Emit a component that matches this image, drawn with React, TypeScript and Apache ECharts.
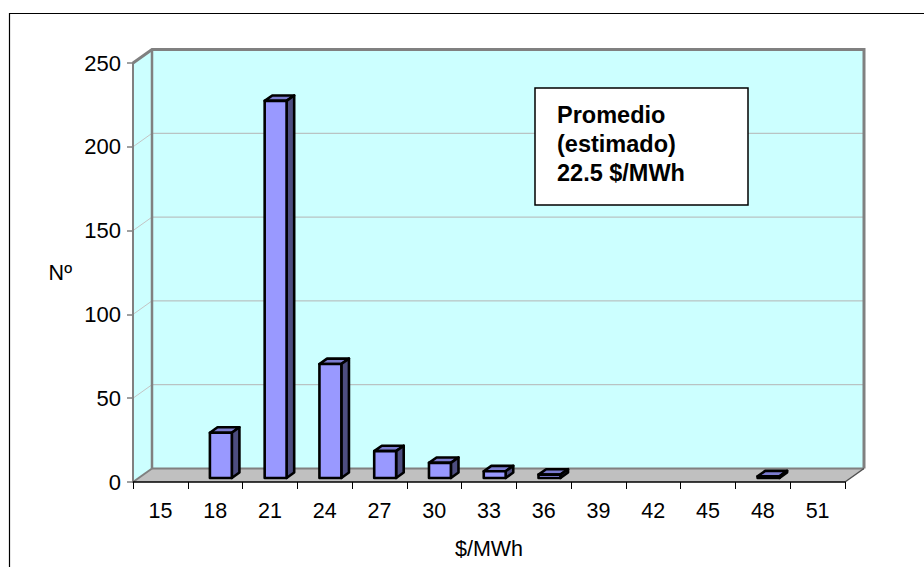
import React, { useEffect, useRef } from "react";
import * as echarts from "echarts";

const categories = ["15", "18", "21", "24", "27", "30", "33", "36", "39", "42", "45", "48", "51"];
const counts = [0, 27, 225, 68, 16, 9, 4, 2, 0, 0, 0, 1, 0];
const yTicks = [0, 50, 100, 150, 200, 250];
const noteLines = ["Promedio", "(estimado)", "22.5 $/MWh"];
const yTitle = "Nº";
const xTitle = "$/MWh";

// 3D depth vector of the plot box and bar placement within that depth
const DX = 19;
const DY = -13.5;
const BAR_F0 = 0.3;
const BAR_F1 = 0.7;
const BAR_W = 0.4;
const FONT = '"Liberation Sans", Arial, sans-serif';

export default function App() {
  const ref = useRef<HTMLDivElement>(null);

  useEffect(() => {
    const chart = echarts.init(ref.current as HTMLDivElement, null, { renderer: "svg" });
    const yMax = yTicks[yTicks.length - 1];
    const yStep = yTicks[1] - yTicks[0];

    const wallsRender = (_params: any, api: any) => {
      const catW = api.size([1, 0])[0];
      const xL = api.coord([0, 0])[0] - catW / 2;
      const xR = api.coord([categories.length - 1, 0])[0] + catW / 2;
      const yB = api.coord([0, 0])[1];
      const yT = api.coord([0, yMax])[1];
      const bxL = xL + DX;
      const bxR = xR + DX;
      const byB = yB + DY;
      const byT = yT + DY;
      const children: any[] = [];
      children.push({
        type: "rect",
        shape: { x: bxL, y: byT, width: bxR - bxL, height: byB - byT },
        style: { fill: "#CCFFFF", stroke: null },
      });
      children.push({
        type: "polygon",
        shape: { points: [[xL, yT], [bxL, byT], [bxL, byB], [xL, yB]] },
        style: { fill: "#CCFFFF", stroke: null },
      });
      children.push({
        type: "polygon",
        shape: { points: [[xL, yB], [bxL, byB], [bxR, byB], [xR, yB]] },
        style: { fill: "#C0C0C0", stroke: null },
      });
      yTicks.forEach((v) => {
        if (v === 0 || v === yMax) return;
        const y = api.coord([0, v])[1];
        children.push({
          type: "line",
          shape: { x1: bxL, y1: y + DY, x2: bxR, y2: y + DY },
          style: { stroke: "#B4B4B4", lineWidth: 1 },
        });
        children.push({
          type: "line",
          shape: { x1: xL, y1: y, x2: bxL, y2: y + DY },
          style: { stroke: "#C4C4C4", lineWidth: 1 },
        });
      });
      children.push({
        type: "polyline",
        shape: { points: [[xL, yT], [bxL, byT], [bxR, byT], [bxR, byB]] },
        style: { fill: null, stroke: "#808080", lineWidth: 3 },
      });
      children.push({
        type: "line",
        shape: { x1: bxL, y1: byT, x2: bxL, y2: byB },
        style: { stroke: "#808080", lineWidth: 2.5 },
      });
      children.push({
        type: "line",
        shape: { x1: bxL, y1: byB, x2: bxR, y2: byB },
        style: { stroke: "#808080", lineWidth: 2 },
      });
      children.push({
        type: "line",
        shape: { x1: xL, y1: yB, x2: bxL, y2: byB },
        style: { stroke: "#808080", lineWidth: 2 },
      });
      children.push({
        type: "line",
        shape: { x1: xR, y1: yB, x2: bxR, y2: byB },
        style: { stroke: "#505050", lineWidth: 1.5 },
      });
      return { type: "group", children };
    };

    const barsRender = (_params: any, api: any) => {
      const idx = api.value(0);
      const v = api.value(1);
      if (!v) return { type: "group", children: [] };
      const catW = api.size([1, 0])[0];
      const cx = api.coord([idx, 0])[0];
      const y0 = api.coord([idx, 0])[1];
      const y1 = api.coord([idx, v])[1];
      const w = catW * BAR_W;
      const fx0 = cx - w / 2 + DX * BAR_F0;
      const fx1 = fx0 + w;
      const fy0 = y0 + DY * BAR_F0;
      const fy1 = y1 + DY * BAR_F0;
      const ddx = DX * (BAR_F1 - BAR_F0);
      const ddy = DY * (BAR_F1 - BAR_F0);
      const edge = { stroke: "#000", lineWidth: 2.6, lineJoin: "round" };
      return {
        type: "group",
        children: [
          {
            type: "polygon",
            shape: { points: [[fx0, fy1], [fx0 + ddx, fy1 + ddy], [fx1 + ddx, fy1 + ddy], [fx1, fy1]] },
            style: { fill: "#7B7BCF", ...edge },
          },
          {
            type: "polygon",
            shape: { points: [[fx1, fy1], [fx1 + ddx, fy1 + ddy], [fx1 + ddx, fy0 + ddy], [fx1, fy0]] },
            style: { fill: "#4D4D80", ...edge },
          },
          {
            type: "rect",
            shape: { x: fx0, y: fy1, width: w, height: fy0 - fy1 },
            style: { fill: "#9999FF", ...edge },
          },
        ],
      };
    };

    chart.setOption({
      animation: false,
      backgroundColor: "#ffffff",
      grid: { left: 133, right: 79, top: 63, bottom: 85, containLabel: false },
      xAxis: {
        type: "category",
        data: categories,
        boundaryGap: true,
        z: 10,
        axisLine: { show: true, lineStyle: { color: "#000", width: 1.5 } },
        axisTick: { show: true, length: 7, interval: 0, lineStyle: { color: "#000", width: 1 } },
        axisLabel: { color: "#000", fontSize: 21.5, fontFamily: FONT, margin: 18, interval: 0 },
        splitLine: { show: false },
        name: xTitle,
        nameLocation: "middle",
        nameGap: 56,
        nameTextStyle: { color: "#000", fontSize: 21.5, fontFamily: FONT },
      },
      yAxis: {
        type: "value",
        min: 0,
        max: yMax,
        interval: yStep,
        z: 10,
        axisLine: { show: true, lineStyle: { color: "#808080", width: 2 } },
        axisTick: { show: true, length: 6, lineStyle: { color: "#808080", width: 1.5 } },
        axisLabel: { color: "#000", fontSize: 22, fontFamily: FONT, margin: 12 },
        splitLine: { show: false },
        name: yTitle,
        nameLocation: "middle",
        nameGap: 61,
        nameRotate: 0,
        nameTextStyle: { color: "#000", fontSize: 21.5, fontFamily: FONT },
      },
      series: [
        {
          type: "custom",
          name: "walls",
          z: 1,
          clip: false,
          silent: true,
          renderItem: wallsRender,
          data: [[0, 0]],
          encode: { x: 0, y: 1 },
        },
        {
          type: "custom",
          name: "Nº",
          z: 3,
          clip: false,
          renderItem: barsRender,
          data: counts.map((v, i) => [i, v]),
          encode: { x: 0, y: 1 },
        },
      ],
      graphic: [
        {
          type: "rect",
          z: 0,
          silent: true,
          shape: { x: 9.5, y: 13.5, width: 1000, height: 1000 },
          style: { fill: "none", stroke: "#000", lineWidth: 1.2 },
        },
        {
          type: "rect",
          z: 50,
          shape: { x: 535, y: 88, width: 213, height: 117 },
          style: { fill: "#fff", stroke: "#000", lineWidth: 1.5 },
        },
        {
          type: "text",
          z: 51,
          x: 557,
          y: 100,
          style: {
            text: noteLines.join("\n"),
            fontFamily: FONT,
            fontSize: 23.5,
            fontWeight: "bold",
            lineHeight: 29,
            fill: "#000",
            verticalAlign: "top",
          },
        },
      ],
    });

    return () => chart.dispose();
  }, []);

  return (
    <div
      ref={ref}
      style={{ position: "absolute", left: 0, top: 0, width: 924, height: 567 }}
    />
  );
}
